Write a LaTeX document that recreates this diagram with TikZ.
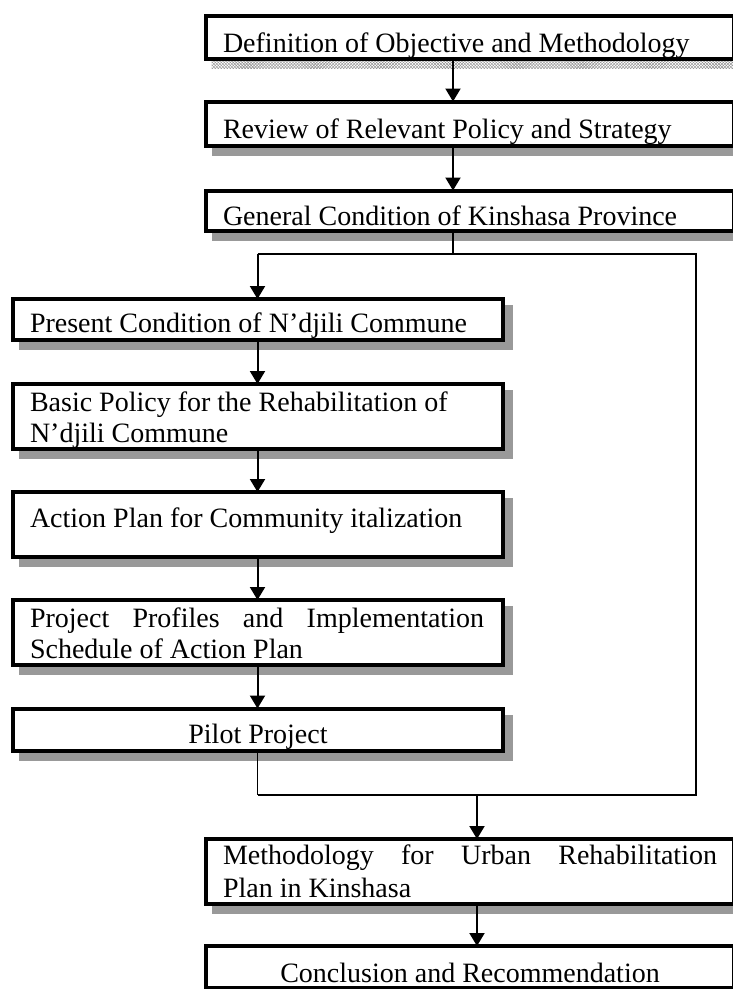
\documentclass[tikz,border=0pt]{standalone}
\usepackage{fontspec}
\setmainfont{Liberation Serif}
\usetikzlibrary{arrows.meta,fit,patterns}

\pgfdeclarelayer{background}
\pgfsetlayers{background,main}

\definecolor{shadowgray}{gray}{0.6}
\definecolor{hatchgray}{gray}{0.55}

% two lines stacked on a common baseline distance
\newcommand{\stackedlines}[3]{\vtop{\baselineskip=#1\hbox{#2}\hbox{#3}}}

\tikzset{
  stepbox/.style={draw, line width=4bp, fill=white, rectangle,
    inner sep=0pt, outer sep=0pt},
  label/.style={inner sep=0pt, outer sep=0pt, anchor=base west,
    font=\fontsize{28bp}{31bp}\selectfont},
  clabel/.style={label, anchor=base},
  flow/.style={line width=2bp, -{Triangle[width=15bp,length=13bp]}},
  link/.style={line width=1.5bp},
  softshadow/.style={fill=shadowgray},
  hatchshadow/.style={pattern=crosshatch, pattern color=hatchgray},
}

\begin{document}
\begin{tikzpicture}[x=1bp, y=-1bp]
  \useasboundingbox (0,0) rectangle (733,989);
  \clip (0,0) rectangle (733,989);

  % boxes of the main column
  \node[stepbox, fit={(205.5,16) (734,58.5)}]   (b1) {};
  \node[stepbox, fit={(205.5,101.5) (734,145.5)}] (b2) {};
  \node[stepbox, fit={(205.5,190.5) (734,231)}]  (b3) {};
  % boxes of the commune column
  \node[stepbox, fit={(13,299) (503,339.5)}]   (b4) {};
  \node[stepbox, fit={(13,384) (503,448.5)}]   (b5) {};
  \node[stepbox, fit={(13,492) (503,556.5)}]   (b6) {};
  \node[stepbox, fit={(13,600) (503,665)}]     (b7) {};
  \node[stepbox, fit={(13,708.5) (503,751)}]   (b8) {};
  % closing boxes
  \node[stepbox, fit={(206,839) (734,903.5)}]  (b9) {};
  \node[stepbox, fit={(206,946) (734,987.5)}]  (b10) {};

  % offset shadows behind the boxes
  \begin{pgfonlayer}{background}
    \fill[hatchshadow] ([shift={(6bp,-10bp)}]b1.south west) rectangle ([shift={(10bp,-6bp)}]b1.north east);
    \foreach \b in {b2,b3,b4,b5,b6,b7,b8,b9}
      \fill[softshadow] ([shift={(6bp,-10bp)}]\b.south west) rectangle ([shift={(10bp,-6bp)}]\b.north east);
  \end{pgfonlayer}

  % texts
  \node[label] (t1) at (223,52)  {Definition of Objective and Methodology};
  \node[label] (t2) at (223,138) {Review of Relevant Policy and Strategy};
  \node[label] (t3) at (223,225) {General Condition of Kinshasa Province};
  \node[label] (t4) at (30,332)  {Present Condition of N’djili Commune};
  \node[label] (t5) at (30,411.5)
    {\stackedlines{30.5bp}{Basic Policy for the Rehabilitation of}{N’djili Commune}};
  \node[label] (t6) at (30,527)  {Action Plan for Community italization};
  \node[label] (t7) at (30,627)
    {\stackedlines{31bp}{\makebox[454bp][s]{Project Profiles and Implementation}}{Schedule of Action Plan}};
  \node[clabel] (t8) at (258,743) {Pilot Project};
  \node[label] (t9) at (223,864)
    {\stackedlines{33bp}{\makebox[494bp][s]{Methodology for Urban Rehabilitation}}{Plan in Kinshasa}};
  \node[clabel] (t10) at (470,982) {Conclusion and Recommendation};

  % routing points of the connectors
  \coordinate (mainx)  at (453,0);
  \coordinate (split)  at (453,254);
  \coordinate (splitL) at (257.5,254);
  \coordinate (splitR) at (696,254);
  \coordinate (joinL)  at (257.5,795);
  \coordinate (joinR)  at (696,795);
  \coordinate (join)   at (477,795);

  % connectors
  \draw[flow] (b1.south -| mainx) -- (b2.north -| mainx);
  \draw[flow] (b2.south -| mainx) -- (b3.north -| mainx);
  \draw[line width=2bp] (b3.south -| split) -- (split);
  \draw[link] (splitL) -- (splitR) -- (joinR) -- (joinL);
  \draw[flow] (splitL) -- (b4.north -| splitL);
  \draw[flow] (b4.south -| splitL) -- (b5.north -| splitL);
  \draw[flow] (b5.south -| splitL) -- (b6.north -| splitL);
  \draw[flow] (b6.south -| splitL) -- (b7.north -| splitL);
  \draw[flow] (b7.south -| splitL) -- (b8.north -| splitL);
  \draw[link] (b8.south -| joinL) -- (joinL);
  \draw[flow] (join) -- (b9.north -| join);
  \draw[flow] (b9.south -| join) -- (b10.north -| join);
\end{tikzpicture}
\end{document}
